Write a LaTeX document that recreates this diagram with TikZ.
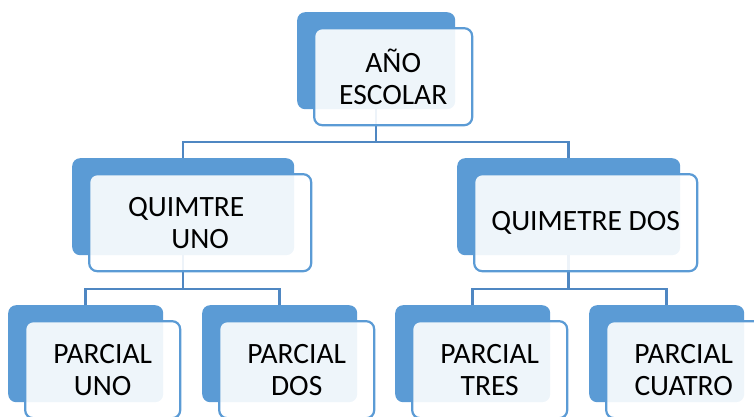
\documentclass[tikz,border=0pt]{standalone}
\usepackage{fontspec}
\setmainfont{Carlito}

\definecolor{artblue}{HTML}{5B9BD5}
\definecolor{artline}{HTML}{4F87C2}

\begin{document}
\begin{tikzpicture}[x=1pt, y=-1pt,
	back/.style={rectangle, rounded corners=8pt, fill=artblue, inner sep=0pt, anchor=north west, minimum height=97pt},
	front/.style={rectangle, rounded corners=8pt, draw=artblue, line width=2.2pt, fill=white, fill opacity=0.9, text opacity=1, inner sep=0pt, minimum height=97pt, align=center, font=\fontsize{29.5}{32}\selectfont},
	link/.style={draw=artline, line width=2.5pt}]
	\useasboundingbox (0,0) rectangle (754,417);
	\foreach \n/\x/\y/\w in {anio/297/12/158, quim1/72/158/222, quim2/457/158/223, parc1/8/305/155, parc2/202/305/155, parc3/395/305/155, parc4/589/305/155}
		\node [back, minimum width=\w pt] (\n) at (\x,\y) {};
	\foreach \a/\b in {anio/quim1, anio/quim2, quim1/parc1, quim1/parc2, quim2/parc3, quim2/parc4}
		\draw [link] (\a.south) |- ([yshift=16pt]\b.north) -- (\b.north);
	\foreach \n/\w/\txt in {anio/158/{AÑO\\ESCOLAR}, quim1/222/{QUIMTRE\hspace*{28pt}\\UNO}, quim2/223/{QUIMETRE DOS}, parc1/155/{PARCIAL\\UNO}, parc2/155/{PARCIAL\\DOS}, parc3/155/{PARCIAL\\TRES}, parc4/155/{PARCIAL\\CUATRO}}
		\node [front, minimum width=\w pt] (\n-t) at ([shift={(17,16)}]\n.center) {\txt};
\end{tikzpicture}
\end{document}
